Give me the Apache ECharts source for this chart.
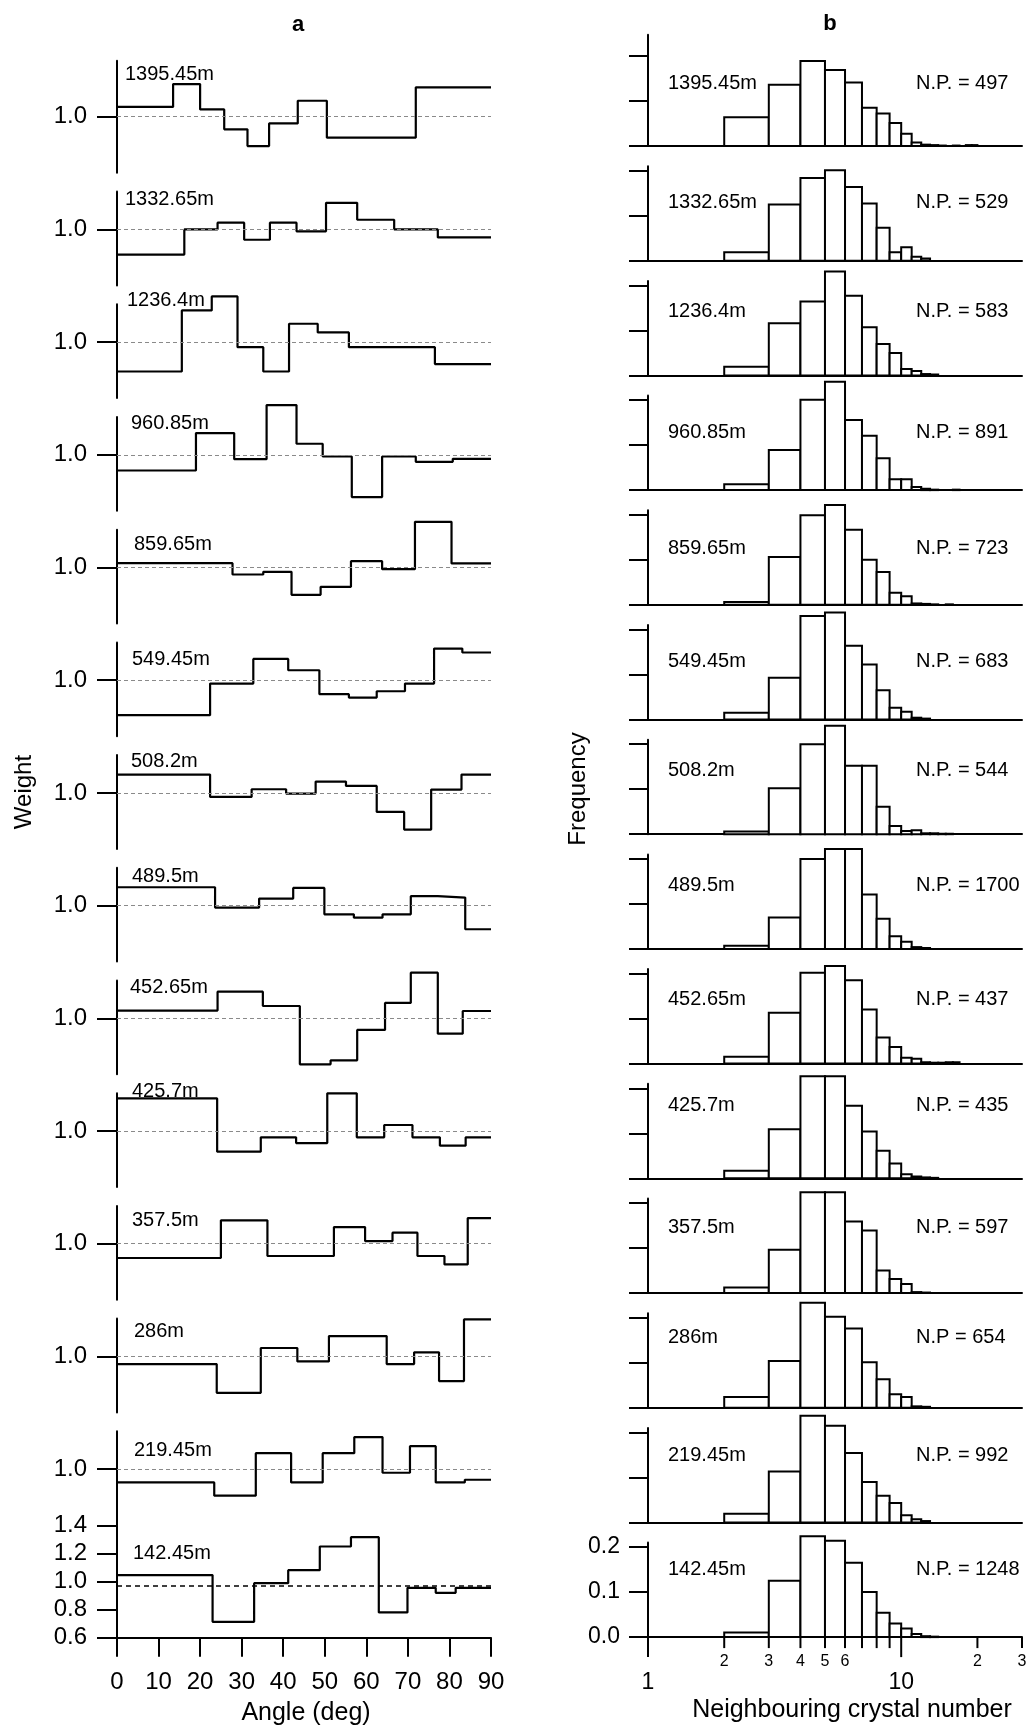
<!DOCTYPE html>
<html>
<head>
    <meta charset="utf-8">
    <title>Weight vs angle and neighbouring crystal number</title>
    <style>
        html, body { margin: 0; padding: 0; background: #fff; }
        #main { width: 1029px; height: 1726px; }
    </style>
</head>
<body>
<div id="main"></div>
<script src="https://cdn.jsdelivr.net/npm/echarts@6/dist/echarts.min.js"></script>
<script>
// depths, top panel first
var depths = ['1395.45m', '1332.65m', '1236.4m', '960.85m', '859.65m', '549.45m', '508.2m',
              '489.5m', '452.65m', '425.7m', '357.5m', '286m', '219.45m', '142.45m'];
var npLabels = ['N.P. = 497', 'N.P. = 529', 'N.P. = 583', 'N.P. = 891', 'N.P. = 723', 'N.P. = 683',
                'N.P. = 544', 'N.P. = 1700', 'N.P. = 437', 'N.P. = 435', 'N.P. = 597', 'N.P = 654',
                'N.P. = 992', 'N.P. = 1248'];

// (a) bin edges in degrees and the weight of each bin
var angleEdges = [
    [0, 13.5, 20, 25.8, 31.4, 36.6, 43.5, 50.5, 71.9, 90],
    [0, 16.2, 24.2, 30.6, 36.8, 43.2, 50.3, 57.8, 66.7, 77.2, 90],
    [0, 15.6, 22.8, 29.0, 35.2, 41.4, 48.3, 55.8, 76.5, 90],
    [0, 19.0, 28.2, 36.0, 43.2, 49.5, 56.5, 63.8, 71.9, 80.8, 90],
    [0, 27.8, 35.2, 42.0, 49.0, 56.3, 63.8, 71.7, 80.5, 90],
    [0, 22.4, 32.8, 41.2, 48.7, 55.8, 62.5, 69.3, 76.3, 83.1, 90],
    [0, 22.4, 32.4, 40.7, 47.8, 55.1, 62.5, 69.1, 75.6, 82.9, 90],
    [0, 23.6, 34.2, 42.4, 49.9, 57.0, 63.9, 70.7, 77.2, 83.8, 90],
    [0, 24.2, 35.1, 44.0, 51.4, 57.8, 64.5, 70.7, 77.2, 83.2, 90],
    [0, 24.1, 34.6, 43.1, 50.6, 57.7, 64.3, 71.1, 77.7, 83.9, 90],
    [0, 25.0, 36.2, 52.2, 59.7, 66.3, 72.3, 78.8, 84.4, 90],
    [0, 24.0, 34.6, 43.4, 51.0, 64.9, 71.5, 77.5, 83.5, 90],
    [0, 23.4, 33.4, 41.9, 49.5, 57.1, 63.9, 70.5, 76.7, 83.7, 90],
    [0, 23.0, 33.0, 41.2, 48.8, 56.3, 63.0, 69.9, 76.7, 81.5, 90]
];
var weights = [
    [1.07, 1.233, 1.052, 0.91, 0.79, 0.952, 1.114, 0.85, 1.21],
    [0.82, 1.0, 1.048, 0.926, 1.048, 0.986, 1.19, 1.069, 1.0, 0.943],
    [0.79, 1.226, 1.326, 0.964, 0.79, 1.131, 1.069, 0.964, 0.843],
    [0.888, 1.155, 0.969, 1.355, 1.079, 0.988, 0.698, 0.988, 0.95, 0.971],
    [1.031, 0.95, 0.969, 0.805, 0.862, 1.045, 0.988, 1.326, 1.029],
    [0.75, 0.976, 1.152, 1.071, 0.9, 0.876, 0.921, 0.976, 1.226, 1.198],
    [1.131, 0.971, 1.026, 0.995, 1.081, 1.05, 0.864, 0.738, 1.024, 1.131],
    [1.131, 0.986, 1.05, 1.126, 0.938, 0.914, 0.938, 1.067, 1.057, 0.831],
    [1.055, 1.19, 1.088, 0.671, 0.7, 0.917, 1.11, 1.326, 0.89, 1.052],
    [1.233, 0.852, 0.955, 0.914, 1.269, 0.955, 1.043, 0.955, 0.895, 0.955],
    [0.898, 1.167, 0.912, 1.119, 1.019, 1.079, 0.912, 0.852, 1.183],
    [0.945, 0.74, 1.06, 0.964, 1.145, 0.945, 1.029, 0.824, 1.264],
    [0.905, 0.81, 1.114, 0.905, 1.114, 1.229, 0.974, 1.164, 0.905, 0.924],
    [1.048, 0.714, 0.99, 1.083, 1.252, 1.319, 0.781, 0.957, 0.921, 0.957]
];
var refLevels = [1, 1, 1, 1, 1, 1, 1, 1, 1, 1, 1, 1, 1, 0.97];
var weightTicks = [0.6, 0.8, 1.0, 1.2, 1.4];

// (b) frequency of each neighbour count n (bin n..n+1)
var neighbourBins = [2, 3, 4, 5, 6, 7, 8, 9, 10, 11, 12, 13, 14, 15, 16, 17, 18, 19, 20];
var frequencies = [
    [0.064, 0.136, 0.189, 0.169, 0.141, 0.085, 0.072, 0.051, 0.027, 0.008, 0.003, 0.002, 0.001, 0, 0.001, 0, 0.002, 0.002, 0],
    [0.019, 0.125, 0.184, 0.201, 0.164, 0.127, 0.073, 0.019, 0.030, 0.009, 0.005, 0, 0, 0, 0, 0, 0, 0, 0],
    [0.019, 0.116, 0.164, 0.231, 0.177, 0.107, 0.070, 0.050, 0.014, 0.010, 0.003, 0.002, 0, 0, 0, 0, 0, 0, 0],
    [0.013, 0.089, 0.201, 0.241, 0.156, 0.121, 0.071, 0.024, 0.024, 0.007, 0.003, 0.001, 0, 0, 0.001, 0, 0, 0, 0],
    [0.006, 0.106, 0.199, 0.222, 0.167, 0.100, 0.073, 0.027, 0.019, 0.003, 0.002, 0.001, 0, 0.001, 0, 0, 0, 0, 0],
    [0.015, 0.093, 0.230, 0.238, 0.164, 0.122, 0.065, 0.026, 0.017, 0.004, 0.002, 0, 0, 0, 0, 0, 0, 0, 0],
    [0.006, 0.102, 0.200, 0.241, 0.152, 0.152, 0.061, 0.018, 0.007, 0.009, 0.002, 0.002, 0.001, 0.001, 0, 0, 0, 0, 0],
    [0.007, 0.070, 0.200, 0.222, 0.222, 0.121, 0.067, 0.028, 0.016, 0.004, 0.002, 0, 0, 0, 0, 0, 0, 0, 0],
    [0.015, 0.113, 0.202, 0.217, 0.185, 0.120, 0.058, 0.037, 0.013, 0.011, 0.003, 0.002, 0.002, 0.003, 0.003, 0, 0, 0, 0],
    [0.017, 0.109, 0.227, 0.227, 0.161, 0.104, 0.061, 0.033, 0.009, 0.004, 0.002, 0.001, 0, 0, 0, 0, 0, 0, 0],
    [0.012, 0.096, 0.224, 0.224, 0.159, 0.139, 0.050, 0.031, 0.020, 0.002, 0.001, 0, 0, 0, 0, 0, 0, 0, 0],
    [0.024, 0.104, 0.233, 0.202, 0.176, 0.101, 0.063, 0.030, 0.024, 0.003, 0.002, 0, 0, 0, 0, 0, 0, 0, 0],
    [0.019, 0.113, 0.237, 0.215, 0.154, 0.090, 0.059, 0.043, 0.016, 0.007, 0.003, 0, 0, 0, 0, 0, 0, 0, 0],
    [0.010, 0.125, 0.224, 0.214, 0.165, 0.100, 0.054, 0.030, 0.019, 0.007, 0.002, 0.001, 0, 0, 0, 0, 0, 0, 0]
];
var freqTicks = [0, 0.1, 0.2];
var crystalTickValues = [1, 2, 3, 4, 5, 6, 7, 8, 9, 10, 20, 30];
var crystalTickLabels = ['1', '2', '3', '4', '5', '6', '', '', '', '10', '2', '3'];

// layout (pixels)
var FONT = '"Liberation Sans", Arial, Helvetica, sans-serif';
var leftLabelX = [125, 125, 127, 131, 134, 132, 131, 132, 130, 132, 132, 134, 134, 133];
var leftLabelY = [74, 199, 300, 423, 544, 659, 761, 876, 987, 1091, 1220, 1331, 1450, 1553];
var rightLabelY = [83, 202, 311, 432, 548, 661, 770, 885, 999, 1105, 1227, 1337, 1455, 1569];

var N = depths.length;
var grids = [], xAxes = [], yAxes = [], series = [], graphics = [];

function stepData(edges, w) {
    var out = [];
    for (var k = 0; k < w.length; k++) out.push([edges[k], w[k]]);
    out.push([edges[edges.length - 1], w[w.length - 1]]);
    return out;
}

function renderBar(params, api) {
    var n = api.value(0), f = api.value(1);
    if (!f) return;
    var a = api.coord([n, 0]);
    var b = api.coord([n + 1, f]);
    return {
        type: 'rect',
        shape: { x: a[0], y: b[1], width: b[0] - a[0], height: a[1] - b[1] },
        style: { fill: '#fff', stroke: '#000', lineWidth: 2 }
    };
}

function renderCrystalTick(params, api) {
    var v = api.value(0);
    var p = api.coord([v, 0]);
    var major = Math.abs(Math.log10(v) % 1) < 1e-9;
    return {
        type: 'group',
        children: [
            { type: 'line', shape: { x1: p[0], y1: p[1], x2: p[0], y2: p[1] + (major ? 20 : 11) },
              style: { stroke: '#000', lineWidth: 2 } },
            { type: 'text', x: p[0], y: p[1] + (major ? 46 : 24),
              style: { text: crystalTickLabels[params.dataIndex], fill: '#000',
                       font: (major ? 23 : 16) + 'px ' + FONT, align: 'center', verticalAlign: 'middle' } }
        ]
    };
}

for (var i = 0; i < N; i++) {
    var last = i === N - 1;
    var gl = 2 * i, gr = 2 * i + 1;          // left / right grid index of this depth

    // ---- left column: weight vs angle
    var c = 116.7 + i * 112.7;               // pixel row of weight 1.0
    var yMaxL = (i === 0 || last) ? 1.4 : 1.27;
    grids.push({ left: 117, width: 374, top: c - (yMaxL - 1) * 140, height: (yMaxL - 0.6) * 140,
                 outerBoundsMode: 'none' });
    xAxes.push({
        type: 'value', gridIndex: gl, min: 0, max: 90, interval: 10, show: last,
        axisLine: { onZero: false, lineStyle: { color: '#000', width: 2 } },
        axisTick: { length: 19, lineStyle: { color: '#000', width: 2 } },
        axisLabel: { color: '#000', fontSize: 24, fontFamily: FONT, margin: 33 },
        splitLine: { show: false }
    });
    yAxes.push({
        type: 'value', gridIndex: gl, min: 0.6, max: yMaxL,
        axisLine: { show: true, onZero: false, lineStyle: { color: '#000', width: 2 } },
        axisTick: { show: true, length: 20, lineStyle: { color: '#000', width: 2 },
                    customValues: last ? weightTicks : [1.0] },
        axisLabel: { color: '#000', fontSize: 24, fontFamily: FONT, margin: 30,
                     customValues: last ? weightTicks : [1.0],
                     formatter: function (v) { return v.toFixed(1); } },
        splitLine: { show: false }
    });
    series.push({
        type: 'line', xAxisIndex: gl, yAxisIndex: gl, step: 'end', symbol: 'none', clip: false,
        data: stepData(angleEdges[i], weights[i]),
        lineStyle: { color: '#000', width: 2.2 },
        markLine: {
            silent: true, symbol: 'none', label: { show: false },
            lineStyle: last ? { type: [5, 4], color: '#000', width: 1.6 }
                            : { type: [4, 3], color: '#8a8a8a', width: 1 },
            data: [{ yAxis: refLevels[i] }]
        }
    });
    graphics.push({ type: 'text', x: leftLabelX[i], y: leftLabelY[i],
        style: { text: depths[i], fill: '#000', font: '20px ' + FONT, verticalAlign: 'middle' } });

    // ---- right column: neighbour histogram
    var base = 146 + i * 114.7;              // pixel row of frequency 0
    var yMaxR = i === 0 ? 0.247 : 0.21;
    grids.push({ left: 648, width: 374, top: base - yMaxR * 450, height: yMaxR * 450,
                 outerBoundsMode: 'none' });
    xAxes.push({
        type: 'log', logBase: 10, gridIndex: gr, min: 1, max: 30,
        axisLine: { show: true, onZero: false, lineStyle: { color: '#000', width: 2 } },
        axisTick: { show: false }, axisLabel: { show: false }, splitLine: { show: false }
    });
    yAxes.push({
        type: 'value', gridIndex: gr, min: 0, max: yMaxR,
        axisLine: { show: true, onZero: false, lineStyle: { color: '#000', width: 2 } },
        axisTick: { show: true, length: 19, lineStyle: { color: '#000', width: 2 }, customValues: freqTicks },
        axisLabel: { show: last, color: '#000', fontSize: 23, fontFamily: FONT, margin: 28,
                     customValues: freqTicks, formatter: function (v) { return v.toFixed(1); } },
        splitLine: { show: false }
    });
    series.push({
        type: 'custom', xAxisIndex: gr, yAxisIndex: gr, clip: false,
        renderItem: renderBar, encode: { x: 0, y: 1 },
        data: neighbourBins.map(function (n, j) { return [n, frequencies[i][j]]; })
    });
    graphics.push({ type: 'text', x: 668, y: rightLabelY[i],
        style: { text: depths[i], fill: '#000', font: '20px ' + FONT, verticalAlign: 'middle' } });
    graphics.push({ type: 'text', x: 916, y: rightLabelY[i],
        style: { text: npLabels[i], fill: '#000', font: '20px ' + FONT, verticalAlign: 'middle' } });
}

// ticks and labels of the log axis under the last histogram
series.push({
    type: 'custom', xAxisIndex: 2 * N - 1, yAxisIndex: 2 * N - 1, clip: false,
    renderItem: renderCrystalTick, encode: { x: 0, y: 1 },
    data: crystalTickValues.map(function (v) { return [v, 0]; })
});

graphics.push(
    { type: 'text', x: 298, y: 25, style: { text: 'a', fill: '#000', font: 'bold 22px ' + FONT, align: 'center', verticalAlign: 'middle' } },
    { type: 'text', x: 830, y: 24, style: { text: 'b', fill: '#000', font: 'bold 22px ' + FONT, align: 'center', verticalAlign: 'middle' } },
    { type: 'text', x: 24, y: 792, rotation: Math.PI / 2, style: { text: 'Weight', fill: '#000', font: '24px ' + FONT, align: 'center', verticalAlign: 'middle' } },
    { type: 'text', x: 578, y: 789, rotation: Math.PI / 2, style: { text: 'Frequency', fill: '#000', font: '24px ' + FONT, align: 'center', verticalAlign: 'middle' } },
    { type: 'text', x: 306, y: 1713, style: { text: 'Angle (deg)', fill: '#000', font: '25px ' + FONT, align: 'center', verticalAlign: 'middle' } },
    { type: 'text', x: 852, y: 1710, style: { text: 'Neighbouring crystal number', fill: '#000', font: '25px ' + FONT, align: 'center', verticalAlign: 'middle' } }
);

var chart = echarts.init(document.getElementById('main'), null, { renderer: 'canvas' });
chart.setOption({
    backgroundColor: '#fff',
    animation: false,
    grid: grids,
    xAxis: xAxes,
    yAxis: yAxes,
    series: series,
    graphic: graphics
});
</script>
</body>
</html>
